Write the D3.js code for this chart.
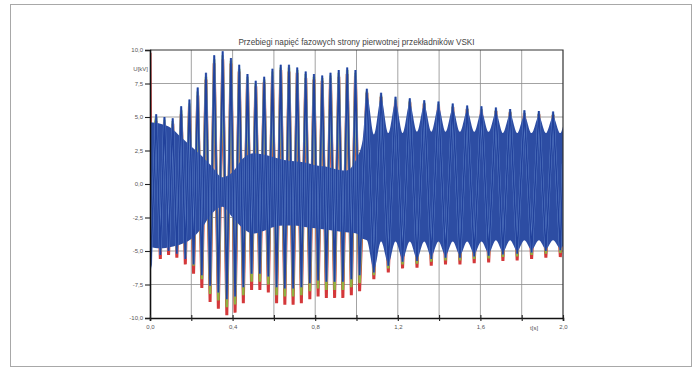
<!DOCTYPE html>
<html>
<head>
<meta charset="utf-8">
<script src="https://cdn.jsdelivr.net/npm/d3@7"></script>
<style>
  body { margin: 0; background: #fff; }
  svg { display: block; }
  text { font-family: "Liberation Sans", Arial, sans-serif; }
</style>
</head>
<body>
<svg id="chart" width="699" height="374"></svg>
<script>
// ---- chart text ----
const title = "Przebiegi napięć fazowych strony pierwotnej przekładników VSKI";
const xTicks = [0, 0.2, 0.4, 0.6, 0.8, 1.0, 1.2, 1.4, 1.6, 1.8, 2.0];
const xLabels = ["0,0", "", "0,4", "", "0,8", "", "1,2", "", "1,6", "", "2,0"];
const yTicks = [-10, -7.5, -5, -2.5, 0, 2.5, 5, 7.5, 10];
const yLabels = ["-10,0", "-7,5", "-5,0", "-2,5", "0,0", "2,5", "5,0", "7,5", "10,0"];
const xUnit = "t[s]";
const yUnit = "U[kV]";

// ---- phase voltages: successive extremes of the oscillation [s], [kV] ----
const peakTime = [
  0.000, 0.004,
  0.030, 0.050, 0.070, 0.090, 0.110, 0.130, 0.151, 0.171, 0.191, 0.211,
  0.231, 0.251, 0.271, 0.291, 0.311, 0.331, 0.352, 0.372, 0.392, 0.412,
  0.432, 0.452, 0.472, 0.492, 0.512, 0.532, 0.553, 0.573, 0.593, 0.613,
  0.633, 0.653, 0.673, 0.693, 0.713, 0.733, 0.754, 0.774, 0.794, 0.814,
  0.834, 0.854, 0.874, 0.894, 0.914, 0.934, 0.955, 0.975, 0.995, 1.015,
  1.050, 1.084, 1.119, 1.154, 1.189, 1.223, 1.258, 1.293, 1.328, 1.362,
  1.397, 1.431, 1.466, 1.501, 1.536, 1.570, 1.605, 1.640, 1.675, 1.709,
  1.744, 1.778, 1.813, 1.848, 1.883, 1.917, 1.952, 1.987,
  2.000
];
const phaseL1 = [
  9.8, -2.0,
  4.7, -5.6, 4.6, -5.3, 4.5, -5.5, 5.2, -6.0, 5.8, -6.7,
  6.6, -7.75, 7.8, -8.8, 9.0, -9.3, 9.3, -9.8, 9.0, -9.6,
  8.4, -8.9, 7.8, -7.9, 7.3, -7.9, 7.6, -8.1, 8.1, -8.9,
  8.5, -9.0, 8.4, -9.0, 8.3, -8.9, 7.9, -8.6, 7.8, -8.4,
  7.7, -8.5, 7.9, -8.5, 8.0, -8.5, 8.2, -8.3, 8.1, -8.0,
  6.8, -7.1, 6.5, -6.6, 6.2, -6.3, 6.1, -6.25, 6.0, -6.1,
  5.9, -6.0, 5.75, -6.0, 5.6, -5.9, 5.55, -5.85, 5.45, -5.75,
  5.35, -5.7, 5.3, -5.6, 5.2, -5.5, 5.15, -5.45,
  -3.0
];
const phaseL2 = [
  3.0, 2.5,
  5.0, -5.0, 4.8, -4.7, 4.7, -4.9, 5.5, -5.4, 6.0, -6.1,
  6.9, -7.1, 8.0, -8.2, 9.3, -8.7, 9.6, -9.2, 9.2, -9.0,
  8.6, -8.3, 8.0, -7.3, 7.5, -7.3, 7.8, -7.5, 8.4, -8.3,
  8.7, -8.4, 8.7, -8.4, 8.5, -8.3, 8.2, -8.0, 8.0, -7.8,
  7.9, -7.9, 8.1, -7.9, 8.3, -7.9, 8.5, -7.7, 8.3, -7.4,
  6.9, -6.8, 6.6, -6.3, 6.3, -6.0, 6.2, -5.95, 6.05, -5.8,
  5.95, -5.7, 5.8, -5.7, 5.65, -5.6, 5.6, -5.55, 5.5, -5.45,
  5.4, -5.4, 5.3, -5.3, 5.25, -5.2, 5.2, -5.15,
  -1.0
];
const phaseL3 = [
  -6.3, -6.0,
  5.2, -5.3, 5.0, -5.0, 4.9, -5.2, 5.8, -5.6, 6.3, -6.0,
  7.2, -6.8, 8.3, -7.6, 9.6, -8.1, 9.9, -8.6, 9.4, -8.4,
  8.9, -7.7, 8.2, -6.7, 7.7, -6.7, 8.0, -6.9, 8.6, -7.7,
  8.9, -7.8, 8.9, -7.8, 8.7, -7.7, 8.4, -7.4, 8.2, -7.2,
  8.1, -7.3, 8.3, -7.3, 8.5, -7.3, 8.7, -7.1, 8.5, -6.8,
  7.1, -6.6, 6.8, -6.1, 6.5, -5.8, 6.4, -5.75, 6.25, -5.6,
  6.15, -5.5, 6.0, -5.5, 5.85, -5.4, 5.8, -5.35, 5.7, -5.25,
  5.6, -5.2, 5.5, -5.1, 5.45, -5.0, 5.4, -4.95,
  1.5
];

// ---- envelope of the dense 50 Hz content [s], [kV] ----
const bandTime = [
  0.000, 0.050, 0.100, 0.150, 0.200, 0.250, 0.300, 0.350, 0.400, 0.450,
  0.500, 0.550, 0.600, 0.650, 0.700, 0.750, 0.800, 0.850, 0.900, 0.950,
  1.000, 1.030,
  1.050, 1.084, 1.119, 1.154, 1.189, 1.223, 1.258, 1.293, 1.328, 1.362,
  1.397, 1.431, 1.466, 1.501, 1.536, 1.570, 1.605, 1.640, 1.675, 1.709,
  1.744, 1.778, 1.813, 1.848, 1.883, 1.917, 1.952, 1.987,
  2.000
];
const bandHigh = [
  4.6, 4.5, 4.2, 3.5, 2.8, 2.1, 1.3, 0.5, 0.9, 1.9,
  2.3, 2.2, 2.0, 1.8, 1.7, 1.6, 1.4, 1.3, 1.1, 1.0,
  1.9, 3.3,
  6.7, 3.7, 6.4, 3.8, 6.1, 3.8, 6.0, 3.9, 5.85, 3.9,
  5.75, 3.9, 5.6, 3.9, 5.45, 3.9, 5.4, 3.9, 5.3, 3.8,
  5.2, 3.8, 5.1, 3.8, 5.05, 3.8, 5.0, 3.8,
  4.3
];
const bandLow = [
  -4.7, -4.8, -4.7, -4.5, -4.1, -3.3, -2.2, -1.7, -2.5, -3.3,
  -3.7, -3.5, -3.2, -3.1, -3.1, -3.2, -3.3, -3.4, -3.5, -3.6,
  -3.7, -4.1,
  -4.2, -6.4, -4.3, -5.9, -4.3, -5.6, -4.3, -5.55, -4.3, -5.4,
  -4.3, -5.35, -4.3, -5.3, -4.3, -5.2, -4.3, -5.15, -4.2, -5.05,
  -4.2, -5.0, -4.2, -4.9, -4.2, -4.85, -4.2, -4.8,
  -4.6
];

// ---- layout ----
const svg = d3.select("#chart");
const plot = { left: 150, right: 563, top: 50, bottom: 318 };

svg.append("rect")
  .attr("x", 10.5).attr("y", 4.5).attr("width", 681).attr("height", 362)
  .attr("fill", "#fff").attr("stroke", "#a8a8a8").attr("stroke-width", 1);

const x = d3.scaleLinear().domain([0, 2]).range([plot.left, plot.right]);
const y = d3.scaleLinear().domain([-10, 10]).range([plot.bottom, plot.top]);

// grid
const grid = svg.append("g").attr("stroke", "#8c8c8c").attr("stroke-width", 0.8);
grid.selectAll("line.v").data(xTicks.slice(1, -1)).join("line")
  .attr("x1", d => x(d)).attr("x2", d => x(d))
  .attr("y1", plot.top).attr("y2", plot.bottom);
grid.selectAll("line.h").data(yTicks.slice(1, -1)).join("line")
  .attr("x1", plot.left).attr("x2", plot.right)
  .attr("y1", d => y(d)).attr("y2", d => y(d));

// waveforms
svg.append("clipPath").attr("id", "plotClip").append("rect")
  .attr("x", plot.left).attr("y", plot.top)
  .attr("width", plot.right - plot.left).attr("height", plot.bottom - plot.top);
const wave = svg.append("g").attr("clip-path", "url(#plotClip)");

const line = d3.line().x(d => x(d[0])).y(d => y(d[1]));
const drawPhase = (values, color, width, opacity) => {
  wave.append("path")
    .datum(peakTime.map((t, i) => [t, values[i]]))
    .attr("fill", "none")
    .attr("stroke", color)
    .attr("stroke-width", width)
    .attr("stroke-opacity", opacity)
    .attr("d", line);
};

// outer phases first, so only their tips and fringes stay visible
drawPhase(phaseL1, "#d4383a", 3.0, 1);
drawPhase(phaseL2, "#8fb040", 2.5, 1);

const band = bandTime.map((t, i) => ({ t, hi: bandHigh[i], lo: bandLow[i] }));
wave.append("path").datum(band)
  .attr("fill", "#2d4da3")
  .attr("d", d3.area().x(d => x(d.t)).y0(d => y(d.lo)).y1(d => y(d.hi))
    .curve(d3.curveMonotoneX));

drawPhase(phaseL3, "#6f93d4", 2.4, 0.8);
drawPhase(phaseL3, "#22429c", 1.6, 1);

// frame (top and right)
svg.append("path")
  .attr("d", `M${plot.left},${plot.top}H${plot.right}V${plot.bottom}`)
  .attr("fill", "none").attr("stroke", "#333").attr("stroke-width", 1.2);

// axes
const yAxis = svg.append("g")
  .attr("transform", `translate(${plot.left},0)`)
  .call(d3.axisLeft(y).tickValues(yTicks).tickFormat((d, i) => yLabels[i])
    .tickSize(5).tickPadding(2));
const xAxis = svg.append("g")
  .attr("transform", `translate(0,${plot.bottom})`)
  .call(d3.axisBottom(x).tickValues(xTicks).tickFormat((d, i) => xLabels[i])
    .tickSize(3).tickPadding(4));
[xAxis, yAxis].forEach(g => {
  g.select(".domain").attr("stroke", "#111").attr("stroke-width", 1.6);
  g.selectAll(".tick line").attr("stroke", "#222").attr("stroke-width", 1.1);
  g.selectAll(".tick text").attr("fill", "#555").attr("font-size", 6)
    .attr("font-family", "Liberation Sans, Arial, sans-serif");
});
xAxis.selectAll(".tick line").attr("y1", -3).attr("y2", 3);

// unit labels
svg.append("text")
  .attr("x", x(1.86)).attr("y", plot.bottom + 12)
  .attr("text-anchor", "middle").attr("font-size", 6).attr("fill", "#555")
  .text(xUnit);
svg.append("text")
  .attr("x", plot.left - 2).attr("y", y(8.6) + 2)
  .attr("text-anchor", "end").attr("font-size", 6).attr("fill", "#555")
  .text(yUnit);

// title
svg.append("text")
  .attr("x", (plot.left + plot.right) / 2).attr("y", plot.top - 5)
  .attr("text-anchor", "middle").attr("font-size", 8.2).attr("fill", "#444")
  .text(title);
</script>
</body>
</html>
